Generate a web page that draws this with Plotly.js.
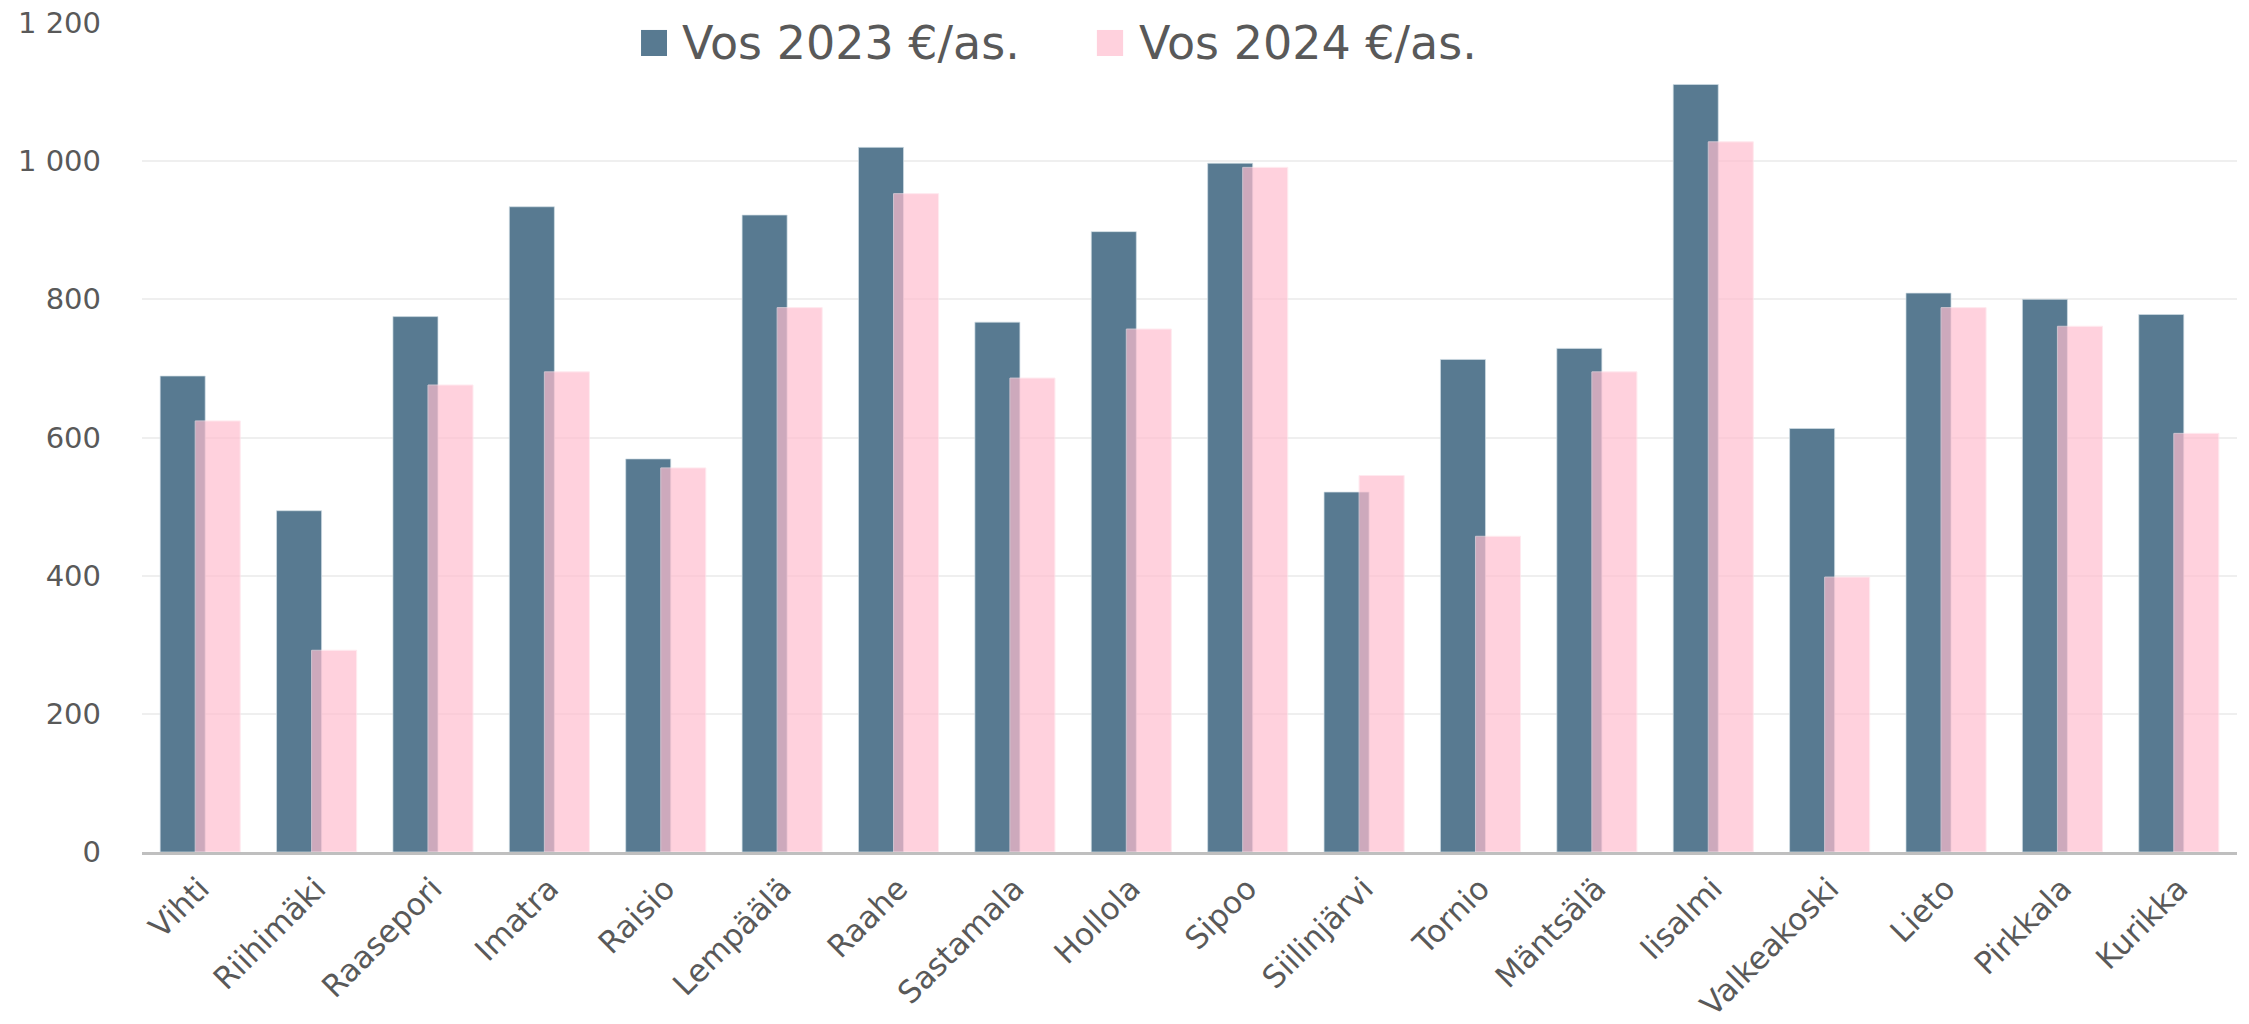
<!DOCTYPE html>
<html>
<head>
<meta charset="utf-8">
<script src="https://cdn.plot.ly/plotly-3.0.1.min.js"></script>
<style>
  html, body { margin: 0; padding: 0; background: #ffffff; }
  #chart { width: 2249px; height: 1024px; }
</style>
</head>
<body>
<div id="chart"></div>
<script>
const municipalities = ['Vihti','Riihimäki','Raasepori','Imatra','Raisio','Lempäälä','Raahe','Sastamala','Hollola','Sipoo','Siilinjärvi','Tornio','Mäntsälä','Iisalmi','Valkeakoski','Lieto','Pirkkala','Kurikka'];
const vos2023 = [689, 494, 775, 934, 569, 922, 1020, 767, 898, 997, 521, 713, 729, 1111, 613, 809, 800, 778];
const vos2024 = [624, 292, 676, 695, 556, 788, 953, 686, 757, 991, 545, 457, 695, 1028, 398, 788, 761, 606];
const seriesNames = ['Vos 2023 €/as.', 'Vos 2024 €/as.'];
const yTicks = [0, 200, 400, 600, 800, 1000, 1200];

const FONT = 'DejaVu Sans, Open Sans, sans-serif';
const TEXT = '#595959';
const DARK = '#587A91';
const PINK = 'rgb(255,190,207)';

const traces = [
  {
    type: 'bar', name: seriesNames[0], x: municipalities, y: vos2023,
    offset: -0.344, width: 0.387,
    marker: { color: DARK, line: { color: 'rgba(210,222,230,0.7)', width: 1 } },
    showlegend: false, hoverinfo: 'x+y'
  },
  {
    type: 'bar', name: seriesNames[1], x: municipalities, y: vos2024,
    offset: -0.043, width: 0.387, opacity: 0.7,
    marker: { color: PINK, line: { color: 'rgba(255,225,233,1)', width: 1 } },
    showlegend: false, hoverinfo: 'x+y'
  }
];

const layout = {
  width: 2249, height: 1024,
  margin: { l: 142, r: 12, t: 23, b: 172 },
  paper_bgcolor: '#ffffff', plot_bgcolor: '#ffffff',
  barmode: 'overlay',
  separators: ', ',
  font: { family: FONT, color: TEXT },
  xaxis: {
    type: 'category',
    tickangle: -45,
    tickfont: { family: FONT, size: 31, color: TEXT },
    showline: true, linecolor: '#BFBFBF', linewidth: 3,
    showgrid: false, ticks: '',
    ticklabelstandoff: 3
  },
  yaxis: {
    range: [0, 1200],
    tickvals: yTicks,
    separatethousands: true,
    tickfont: { family: FONT, size: 29, color: TEXT },
    showgrid: true, gridcolor: '#EFEFEF', gridwidth: 2,
    zeroline: false, showline: false, ticks: '',
    ticklabelstandoff: 40
  },
  shapes: [
    { type: 'rect', xref: 'paper', yref: 'paper', x0: 0.2382, x1: 0.2506, y0: 0.9602, y1: 0.9916, fillcolor: DARK, line: { width: 0 } },
    { type: 'rect', xref: 'paper', yref: 'paper', x0: 0.4558, x1: 0.4683, y0: 0.9602, y1: 0.9916, fillcolor: PINK, opacity: 0.7, line: { width: 0 } }
  ],
  annotations: [
    { xref: 'paper', yref: 'paper', x: 0.2568, y: 0.9759, xanchor: 'left', yanchor: 'middle', text: seriesNames[0], showarrow: false, font: { family: FONT, size: 46, color: TEXT } },
    { xref: 'paper', yref: 'paper', x: 0.4749, y: 0.9759, xanchor: 'left', yanchor: 'middle', text: seriesNames[1], showarrow: false, font: { family: FONT, size: 46, color: TEXT } }
  ]
};

Plotly.newPlot('chart', traces, layout, { displayModeBar: false, staticPlot: true });
</script>
</body>
</html>
